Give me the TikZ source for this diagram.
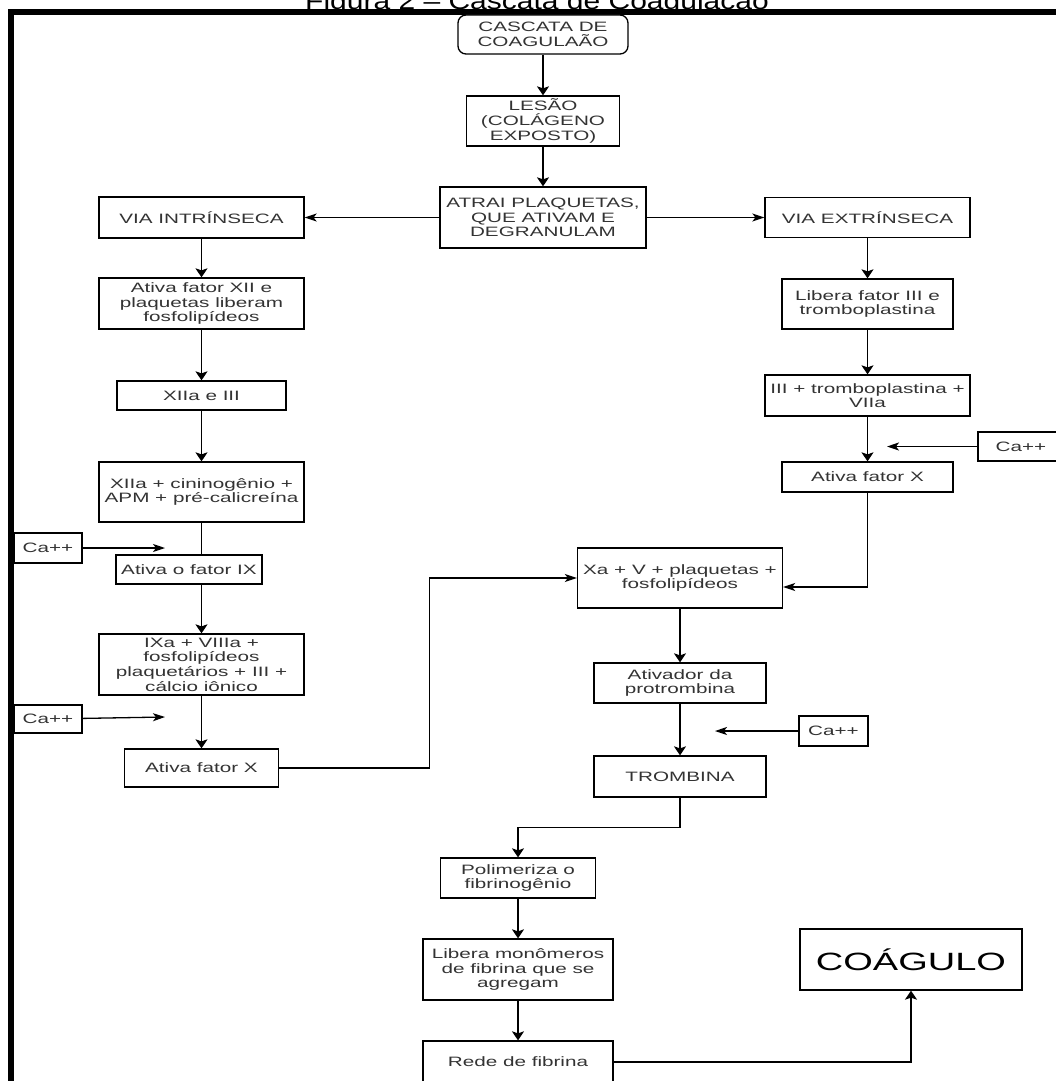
\documentclass[tikz,border=0pt]{standalone}
\usepackage{fontspec}
\setmainfont{Liberation Sans}
\newfontfamily\df{Liberation Sans}[FakeStretch=1.52]
\newfontfamily\tf{Liberation Sans}[FakeStretch=1.25]
\usetikzlibrary{arrows.meta}
\definecolor{txt}{HTML}{333333}
\begin{document}
\begin{tikzpicture}[x=1pt,y=-1pt,
  box/.style={draw=black, line width=1.3pt, fill=white, align=center, inner sep=0pt,
    text=txt, font=\df\fontsize{13.6}{14.6}\selectfont},
  conn/.style={line width=1.3pt, draw=black},
  va/.style={conn, -{Stealth[length=9pt,width=12pt,inset=2pt]}},
  ha/.style={conn, -{Stealth[length=12pt,width=8pt,inset=3pt]}}]
\useasboundingbox (0,0) rectangle (1056,1081);
\fill[white] (0,0) rectangle (1056,1081);
% title (cut by the page top, as in the reference)
\node[anchor=base, inner sep=0pt, font=\tf\fontsize{24}{28}\selectfont] (title) at (537,10) {Figura 2 – Cascata de Coagulação};
% frame
\fill[black] (8,9) rectangle (1060,15);
\fill[black] (8,9) rectangle (14,1085);

% nodes
\node[box, rounded corners=8pt, minimum width=170pt, minimum height=39pt] (cas) at (543,34.5) {CASCATA DE\\COAGULAÃO};
\node[box, minimum width=153pt, minimum height=50pt] (les) at (543,121) {LESÃO\\(COLÁGENO\\EXPOSTO)};
\node[box, minimum width=206pt, minimum height=61pt] (atr) at (543,217.5) {ATRAI PLAQUETAS,\\QUE ATIVAM E\\DEGRANULAM};
\node[box, minimum width=205pt, minimum height=41pt] (vin) at (201.5,217.5) {VIA INTRÍNSECA};
\node[box, minimum width=205pt, minimum height=40pt] (vex) at (867.5,217.5) {VIA EXTRÍNSECA};
% intrinsic
\node[box, minimum width=205pt, minimum height=51pt] (afx) at (201.5,303.5) {Ativa fator XII e\\plaquetas liberam\\fosfolipídeos};
\node[box, minimum width=169pt, minimum height=29pt] (x3) at (201.5,395.5) {XIIa e III};
\node[box, minimum width=205pt, minimum height=60pt] (xc) at (201.5,492) {XIIa + cininogênio +\\APM + pré-calicreína};
\node[box, minimum width=68pt, minimum height=30pt] (ca1) at (48,548) {Ca++};
\node[box, minimum width=146pt, minimum height=29pt] (ix) at (189,569.5) {Ativa o fator IX};
\node[box, minimum width=205pt, minimum height=61pt] (ixa) at (201.5,664.5) {IXa + VIIIa +\\fosfolipídeos\\plaquetários + III +\\cálcio iônico};
\node[box, minimum width=68pt, minimum height=28pt] (ca2) at (48,719) {Ca++};
\node[box, minimum width=154pt, minimum height=38pt] (afl) at (201.5,768) {Ativa fator X};
% extrinsic
\node[box, minimum width=171pt, minimum height=50pt] (lft) at (867.5,304) {Libera fator III e\\tromboplastina};
\node[box, minimum width=205pt, minimum height=41pt] (x3p) at (867.5,395.5) {III + tromboplastina +\\VIIa};
\node[box, minimum width=86pt, minimum height=29pt] (ca4) at (1021,446.5) {Ca++};
\node[box, minimum width=171pt, minimum height=30pt] (afr) at (867.5,477) {Ativa fator X};
% common
\node[box, minimum width=205pt, minimum height=60pt] (xa) at (680,578) {Xa + V + plaquetas +\\fosfolipídeos};
\node[box, minimum width=172pt, minimum height=40pt] (act) at (680,683) {Ativador da\\protrombina};
\node[box, minimum width=69pt, minimum height=30pt] (ca3) at (833.5,731) {Ca++};
\node[box, minimum width=172pt, minimum height=41pt] (tro) at (680,776.5) {TROMBINA};
\node[box, minimum width=155pt, minimum height=40pt] (pol) at (518,878) {Polimeriza o\\fibrinogênio};
\node[box, minimum width=190pt, minimum height=61pt] (lib) at (518,969.5) {Libera monômeros\\de fibrina que se\\agregam};
\node[box, minimum width=190pt, minimum height=42pt] (red) at (518,1062) {Rede de fibrina};
\node[box, text=black, font=\df\fontsize{25}{28}\selectfont, minimum width=222pt, minimum height=61pt] (coa) at (911,959.5) {COÁGULO};

% targets of the Ca++ arrows
\coordinate (t1) at (165,548);
\coordinate (t2) at (165,717);
\coordinate (t4) at (887,446.5);
\coordinate (t3) at (715,731);

% connectors
\draw[va] (cas) -- (les);
\draw[va] (les) -- (atr);
\draw[ha] (atr.west) -- (vin.east);
\draw[ha] (atr.east) -- (vex.west);
\draw[va] (vin) -- (afx);
\draw[va] (afx) -- (x3);
\draw[va] (x3) -- (xc);
\draw[conn] (xc.south) -- (xc.south |- ix.north);
\draw[ha] (ca1) -- (t1);
\draw[va] (ixa.north |- ix.south) -- (ixa.north);
\draw[va] (ixa) -- (afl);
\draw[ha] (ca2) -- (t2);
\draw[ha] (afl.east) -- ++(150,0) |- (xa.west);
\draw[va] (vex) -- (lft);
\draw[va] (lft) -- (x3p);
\draw[va] (x3p) -- (afr);
\draw[ha] (ca4) -- (t4);
\draw[ha] (afr.south) |- ([yshift=-9pt]xa.east);
\draw[va] (xa) -- (act);
\draw[va] (act) -- (tro);
\draw[ha] (ca3) -- (t3);
\draw[va] (tro.south) -- ++(0,30) -| (pol.north);
\draw[va] (pol) -- (lib);
\draw[va] (lib) -- (red);
\draw[va] (red.east) -| (coa.south);
\end{tikzpicture}
\end{document}
